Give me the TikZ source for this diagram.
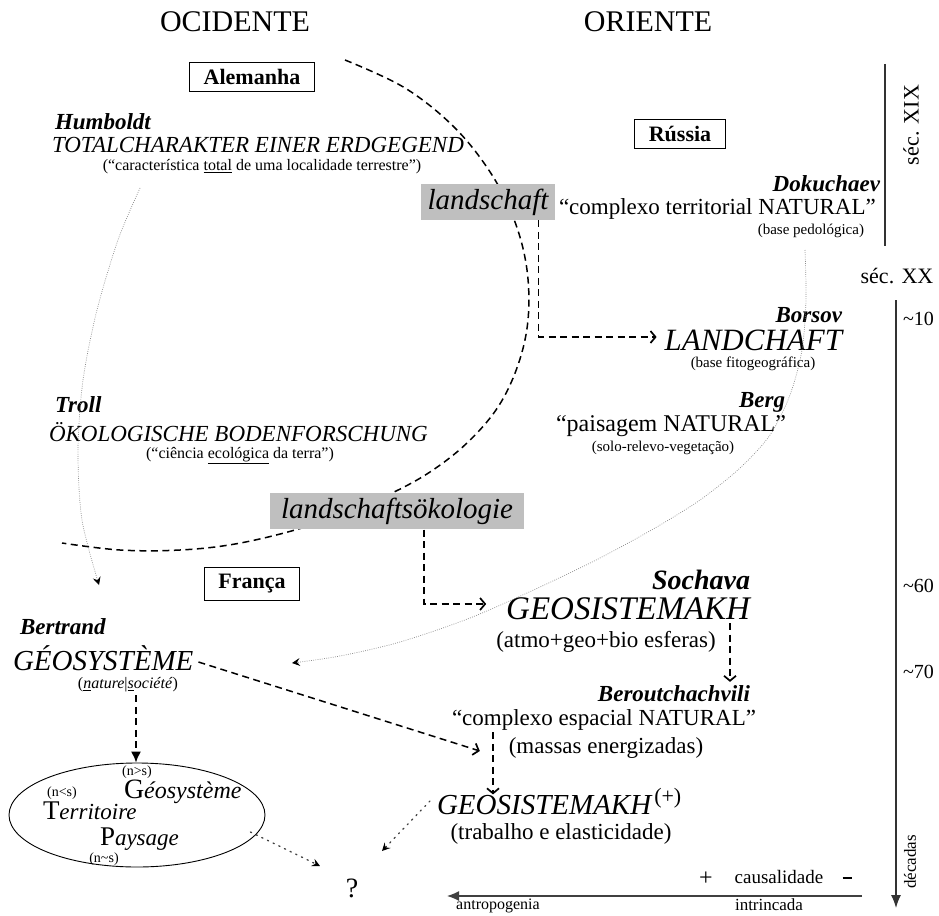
\documentclass[tikz,border=0pt]{standalone}
\usepackage{fontspec}
\setmainfont{Liberation Serif}
\usetikzlibrary{arrows.meta,calc,shapes.geometric}
\newcommand{\fs}[1]{\fontsize{#1}{#1}\selectfont}
\begin{document}
\begin{tikzpicture}[x=1pt,y=-1pt,
  txt/.style={inner sep=0pt, outer sep=0pt},
  country/.style={draw, line width=1pt, inner xsep=14pt, inner ysep=7pt, font=\fs{22}\bfseries},
  graybox/.style={fill=black!25, inner xsep=7pt, inner ysep=5pt, font=\fs{29}\itshape},
  dconn/.style={line width=1.5pt, dash pattern=on 7pt off 4.5pt},
  chev/.style={-{Straight Barb[length=5pt,width=12pt,line width=1.7pt]}},
  dotc/.style={black!45, line width=0.7pt, dash pattern=on 0.8pt off 1.4pt},
  dtip/.style={-{Stealth[length=8pt,width=8pt,inset=3pt,color=black]}},
  dotb/.style={black!75, line width=1.3pt, dash pattern=on 1.3pt off 5pt, line cap=round},
  tline/.style={line width=1.2pt, black!80}
]
\useasboundingbox (0,0) rectangle (939,915);

% big dashed boundary arc
\draw[dconn] plot[smooth, tension=0.6] coordinates {(345,60) (405,88) (455,128) (492,175) (515,222) (527,270) (528,320) (518,365) (498,407) (467,443) (430,472) (390,494) (345,513) (295,530) (235,544) (180,550) (120,550) (62,543)};

% headers
\node[txt, font=\fs{30}] (occ) at (235,22) {OCIDENTE};
\node[txt, font=\fs{30}] (ori) at (648,22) {ORIENTE};

% country boxes
\node[country, fill=white] (alem) at (252,77) {Alemanha};
\node[country] (rus) at (680,134) {Rússia};
\node[country] (fra) at (252,584) {França};

% Humboldt
\node[txt, anchor=west, font=\fs{23}\bfseries\itshape] (humb) at (55,122) {Humboldt};
\node[txt, anchor=west, font=\fs{23}\itshape] (tot) at (52,145) {TOTALCHARAKTER EINER ERDGEGEND};
\node[txt, font=\fs{16}] (totp) at (262,167) {(“característica \underline{total} de uma localidade terrestre”)};

% Troll
\node[txt, anchor=west, font=\fs{23}\bfseries\itshape] (troll) at (55,405) {Troll};
\node[txt, anchor=west, font=\fs{23}\itshape] (oko) at (49,432) {ÖKOLOGISCHE BODENFORSCHUNG};
\node[txt, font=\fs{16}] (okop) at (240,456) {(“ciência \underline{ecológica} da terra”)};

% gray boxes
\node[graybox] (lsch) at (488,202) {landschaft};
\node[graybox, inner xsep=11pt] (lok) at (397,511) {landschaftsökologie};

% Dokuchaev
\node[txt, anchor=east, font=\fs{23}\bfseries\itshape] (doku) at (880,184) {Dokuchaev};
\node[txt, anchor=west, font=\fs{23}] (ctn) at (559,209) {“complexo territorial NATURAL”};
\node[txt, anchor=east, font=\fs{15}] (pedo) at (864,231) {(base pedológica)};

% timeline
\coordinate (t1) at (885,64);
\coordinate (t2) at (885,246);
\draw[tline] (t1) -- (t2);
\node[txt, rotate=90, font=\fs{22}] (xix) at (911,125) {séc. XIX};
\node[txt, font=\fs{22}] (xx) at (897,276) {séc. XX};
\coordinate (t3) at (896,300);
\coordinate (t4) at (896,908);
\draw[tline, -{Latex[length=13pt,width=10pt]}] (t3) -- (t4);
\node[txt, anchor=west, font=\fs{20}] (d10) at (903,319) {\textasciitilde10};
\node[txt, anchor=west, font=\fs{20}] (d60) at (903,586) {\textasciitilde60};
\node[txt, anchor=west, font=\fs{20}] (d70) at (903,672) {\textasciitilde70};
\node[txt, rotate=90, font=\fs{17}] (dec) at (910,862) {décadas};

% Borsov
\node[txt, anchor=east, font=\fs{23}\bfseries\itshape] (bors) at (842,315) {Borsov};
\node[txt, anchor=east, font=\fs{31}\itshape] (landc) at (842,340) {LANDCHAFT};
\node[txt, font=\fs{15}] (fito) at (753,364) {(base fitogeográfica)};

% Berg
\node[txt, anchor=east, font=\fs{23}\bfseries\itshape] (berg) at (785,402) {Berg};
\node[txt, font=\fs{24}] (pais) at (671,426) {“paisagem NATURAL”};
\node[txt, font=\fs{15}] (solo) at (663,448) {(solo-relevo-vegetação)};

% Sochava
\node[txt, anchor=east, font=\fs{28}\bfseries\itshape] (soch) at (750,580) {Sochava};
\node[txt, anchor=east, font=\fs{33}\itshape] (geo) at (750,609) {GEOSISTEMAKH};
\node[txt, font=\fs{23}] (atmo) at (606,642) {(atmo+geo+bio esferas)};

% Beroutchachvili
\node[txt, anchor=east, font=\fs{23}\bfseries\itshape] (berou) at (750,694) {Beroutchachvili};
\node[txt, font=\fs{23}] (cen) at (604,720) {“complexo espacial NATURAL”};
\node[txt, font=\fs{23}] (mass) at (606,748) {(massas energizadas)};

% GEOSISTEMAKH (+)
\node[txt, anchor=west, font=\fs{29}\itshape] (geop) at (437,801) {GEOSISTEMAKH\hspace{3pt}\raisebox{11pt}{\upshape\fs{22}(+)}};
\node[txt, font=\fs{23}] (trab) at (561,834) {(trabalho e elasticidade)};

% Bertrand
\node[txt, anchor=west, font=\fs{23}\bfseries\itshape] (bert) at (20,627) {Bertrand};
\node[txt, anchor=west, font=\fs{29}\itshape] (geos) at (13,658) {GÉOSYSTÈME};
\node[txt, font=\fs{16}] (natsoc) at (128,685) {(\textit{\underline{n}ature}|\textit{\underline{s}ociété})};

% ellipse
\node[draw, ellipse, line width=0.9pt, minimum width=256pt, minimum height=104pt, inner sep=0pt] (ell) at (137,815) {};
\node[txt, font=\fs{14}] (ngs) at (137,772) {(n>s)};
\node[txt, font=\fs{14}] (nls) at (62,793) {(n<s)};
\node[txt, anchor=west] (gsy) at (124,792) {\fs{28}G\fs{24}\itshape éosystème};
\node[txt, anchor=west] (terr) at (43,811) {\fs{27}T\fs{23}\itshape erritoire};
\node[txt, anchor=west] (pays) at (100,839) {\fs{27}P\fs{23}\itshape aysage};
\node[txt, font=\fs{14}] (nts) at (104,859) {(n\textasciitilde s)};

% question mark
\node[txt, font=\fs{28}] (q) at (352,888) {?};

% causalidade
\node[txt, font=\fs{24}] (plus) at (706,879) {+};
\node[txt, font=\fs{19}] (caus) at (779,877) {causalidade};
\node[txt] (minus) at (847,878) {\rule{9pt}{2.6pt}};
\coordinate (c1) at (862,896);
\coordinate (c2) at (447,896);
\draw[line width=1.3pt, black!75, -{Latex[length=12pt,width=10pt]}] (c1) -- (c2);
\node[txt, font=\fs{16}] (antro) at (498,906) {antropogenia};
\node[txt, font=\fs{17}] (intr) at (769,905) {intrincada};

% dashed connectors
\draw[dconn, chev] ($(lsch.south east)+(-17,0)$) |- ($(landc.west)+(-8,-3)$);
\draw[dconn, chev] ($(lok.south)+(27,0)$) |- ($(geo.west)+(-20,-5)$);
\draw[dconn, chev] ($(geo.south east)+(-20,3)$) -- ($(berou.north east)+(-20,-4)$);
\draw[dconn, chev] ($(cen.south west)+(41,2)$) -- ($(cen.south west)+(41,64)$);
\draw[dconn, chev] ($(geos.east)+(5,4)$) -- ($(mass.west)+(-29,3)$);
\draw[dconn, -{Latex[length=11pt,width=10pt]}] ($(natsoc.south)+(8,3)$) -- ($(ell.north)+(-1,0)$);

% dotted curves
\coordinate (h1) at (140,188);
\coordinate (h2) at (99,585);
\draw[dotc, dtip] plot[smooth] coordinates {(h1) (118,240) (97,310) (83,380) (78,450) (82,520) (h2)};
\coordinate (k1) at (805,250);
\coordinate (k2) at (292,663);
\draw[dotc, dtip] plot[smooth] coordinates {(k1) (806,300) (802,350) (790,395) (770,435) (740,468) (700,500) (655,528) (600,558) (540,587) (470,618) (400,642) (340,656) (k2)};
\draw[dotb, dtip] ($(ell.east)+(-15,17)$) -- ($(q)+(-32,-22)$);
\draw[dotb, dtip] ($(geop.west)+(-7,0)$) -- ($(q)+(30,-37)$);
\end{tikzpicture}
\end{document}
